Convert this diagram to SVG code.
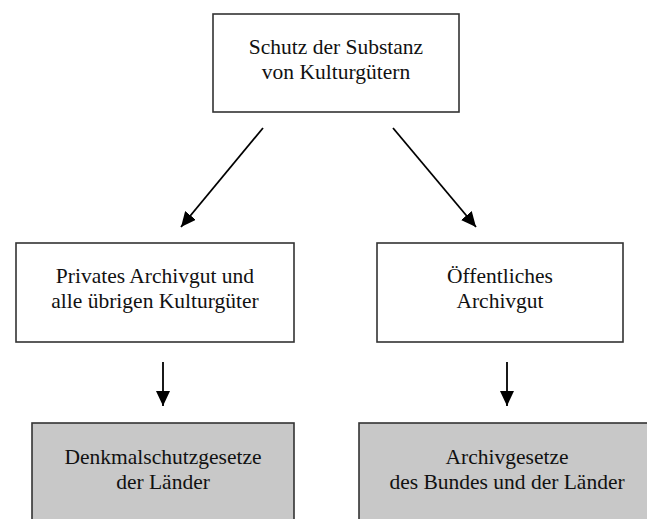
<svg xmlns="http://www.w3.org/2000/svg" width="647" height="519" viewBox="0 0 647 519">
  <defs>
    <marker id="ah" markerUnits="userSpaceOnUse" markerWidth="15" markerHeight="14" refX="15" refY="7" orient="auto">
      <path d="M0,0 L15,7 L0,14 z" fill="#000"/>
    </marker>
  </defs>
  <style>
    .box { fill: #fff; stroke: #333; stroke-width: 1.6; }
    .gbox { fill: #c8c8c8; stroke: #333; stroke-width: 1.6; }
    .lbl { font-family: 'Liberation Serif', 'Times New Roman', Times, 'DejaVu Serif', serif; font-size: 21.5px; fill: #111; text-anchor: middle; }
    .conn { stroke: #000; stroke-width: 1.8; fill: none; marker-end: url(#ah); }
  </style>
  <rect width="647" height="519" fill="#fff"/>
  <g id="top">
    <rect class="box" x="213" y="14" width="246" height="98"/>
    <text class="lbl" font-family="Liberation Serif, serif" x="336" y="54">Schutz der Substanz</text>
    <text class="lbl" font-family="Liberation Serif, serif" x="336" y="79">von Kulturgütern</text>
  </g>
  <g id="privat">
    <rect class="box" x="16" y="243" width="278" height="99"/>
    <text class="lbl" font-family="Liberation Serif, serif" x="155" y="283">Privates Archivgut und</text>
    <text class="lbl" font-family="Liberation Serif, serif" x="155" y="308">alle übrigen Kulturgüter</text>
  </g>
  <g id="oeffentlich">
    <rect class="box" x="377" y="243" width="246" height="99"/>
    <text class="lbl" font-family="Liberation Serif, serif" x="500" y="283">Öffentliches</text>
    <text class="lbl" font-family="Liberation Serif, serif" x="500" y="308">Archivgut</text>
  </g>
  <g id="denkmal">
    <rect class="gbox" x="32" y="423" width="262" height="110"/>
    <text class="lbl" font-family="Liberation Serif, serif" x="163" y="464">Denkmalschutzgesetze</text>
    <text class="lbl" font-family="Liberation Serif, serif" x="163" y="489">der Länder</text>
  </g>
  <g id="archivgesetze">
    <rect class="gbox" x="359" y="423" width="300" height="110"/>
    <text class="lbl" font-family="Liberation Serif, serif" x="507" y="464">Archivgesetze</text>
    <text class="lbl" font-family="Liberation Serif, serif" x="507" y="489">des Bundes und der Länder</text>
  </g>
  <g id="connectors">
    <line class="conn" x1="263" y1="128" x2="181" y2="227"/>
    <line class="conn" x1="393" y1="128" x2="476" y2="227"/>
    <line class="conn" x1="163" y1="362" x2="163" y2="406"/>
    <line class="conn" x1="507" y1="362" x2="507" y2="406"/>
  </g>
</svg>
